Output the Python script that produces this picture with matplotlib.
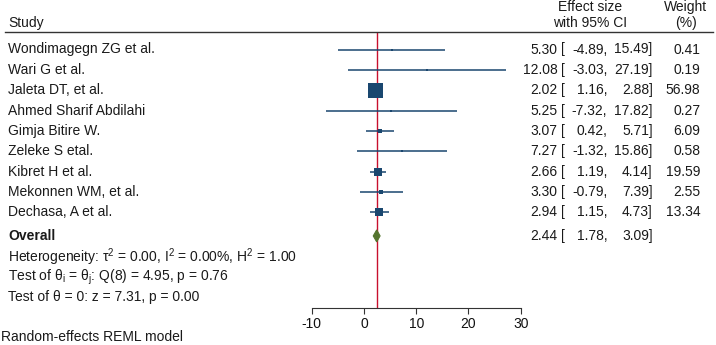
import matplotlib
matplotlib.use("Agg")
import matplotlib.pyplot as plt
import matplotlib.transforms as mtransforms
from matplotlib.lines import Line2D
from matplotlib.patches import Polygon
import numpy as np

plt.rcParams['font.family'] = ['Liberation Sans', 'DejaVu Sans']
plt.rcParams['mathtext.fontset'] = 'custom'
plt.rcParams['mathtext.rm'] = 'Liberation Sans'
plt.rcParams['mathtext.it'] = 'Liberation Sans:italic'
plt.rcParams['mathtext.bf'] = 'Liberation Sans:bold'
plt.rcParams['axes.unicode_minus'] = False

studies = ["Wondimagegn ZG et al.", "Wari G et al.", "Jaleta DT, et al.",
           "Ahmed Sharif Abdilahi", "Gimja Bitire W.", "Zeleke S etal.",
           "Kibret H et al.", "Mekonnen WM, et al.", "Dechasa, A et al."]
es = [5.30, 12.08, 2.02, 5.25, 3.07, 7.27, 2.66, 3.30, 2.94]
lo = [-4.89, -3.03, 1.16, -7.32, 0.42, -1.32, 1.19, -0.79, 1.15]
hi = [15.49, 27.19, 2.88, 17.82, 5.71, 15.86, 4.14, 7.39, 4.73]
weights = [0.41, 0.19, 56.98, 0.27, 6.09, 0.58, 19.59, 2.55, 13.34]
overall = (2.44, 1.78, 3.09)
het_lines = [r"Heterogeneity: $\mathrm{τ}^\mathrm{2}$ = 0.00, $\mathrm{I}^\mathrm{2}$ = 0.00%, $\mathrm{H}^\mathrm{2}$ = 1.00",
             r"Test of $\mathrm{θ}_\mathrm{i}$ = $\mathrm{θ}_\mathrm{j}$: Q(8) = 4.95, p = 0.76",
             r"Test of θ = 0: z = 7.31, p = 0.00"]
xticks = [-10, 0, 10, 20, 30]

W, H = 716, 345
fig = plt.figure(figsize=(W / 100, H / 100), dpi=100)
fig.patch.set_facecolor('white')

def fx(px):
    return px / W

def fy(py):
    return 1 - py / H

ax_left, ax_right, ax_top, ax_bot = 311.7, 520.7, 32, 307.7
ax = fig.add_axes([fx(ax_left), fy(ax_bot), fx(ax_right - ax_left), (ax_bot - ax_top) / H])
ax.set_xlim(-10, 30)
row0, rowh = 49.5, 20.35
ax.set_ylim((ax_bot - row0) / rowh, (ax_top - row0) / rowh)
for s in ['top', 'right', 'left']:
    ax.spines[s].set_visible(False)
ax.spines['bottom'].set_color('#333333')
ax.spines['bottom'].set_linewidth(0.8)
ax.set_yticks([])
ax.set_xticks(xticks)
ax.tick_params(axis='x', direction='out', length=4, width=0.8, color='#333333',
               labelsize=10, pad=3, labelcolor='#111111')
ax.patch.set_alpha(0)

navy = '#1a476f'
green = '#55752f'
red = '#c8102e'
fs = 10

ax.axvline(overall[0], color=red, lw=1.0, zorder=1)

k = 15 / np.sqrt(max(weights))  # px per sqrt(weight)
for i in range(len(studies)):
    ax.plot([lo[i], hi[i]], [i, i], color=navy, lw=1.1, zorder=2, solid_capstyle='butt')
    side_px = max(k * np.sqrt(weights[i]), 2.6)
    ax.plot([es[i]], [i], marker='s', ms=side_px * 0.72, color=navy, mec=navy, mew=0, zorder=3)

oy = 9.16
dh = 6 / rowh
dia = Polygon([[overall[1], oy], [overall[0], oy - dh], [overall[2], oy], [overall[0], oy + dh]],
              closed=True, facecolor=green, edgecolor=green, lw=0.8, zorder=3)
ax.add_patch(dia)

tr = mtransforms.blended_transform_factory(fig.transFigure, ax.transData)
tcol = '#1a1a1a'
for i, name in enumerate(studies):
    fig.text(fx(8), i, name, transform=tr, fontsize=fs, va='center', ha='left', color=tcol)
    fig.text(fx(557.7), i, f"{es[i]:.2f}", transform=tr, fontsize=fs, va='center', ha='right', color=tcol)
    fig.text(fx(561.5), i, "[", transform=tr, fontsize=fs, va='center', ha='left', color=tcol)
    fig.text(fx(607.3), i, f"{lo[i]:.2f},", transform=tr, fontsize=fs, va='center', ha='right', color=tcol)
    fig.text(fx(652.7), i, f"{hi[i]:.2f}]", transform=tr, fontsize=fs, va='center', ha='right', color=tcol)
    fig.text(fx(700.5), i, f"{weights[i]:.2f}", transform=tr, fontsize=fs, va='center', ha='right', color=tcol)

fig.text(fx(8), oy, "Overall", transform=tr, fontsize=fs, va='center', ha='left', color=tcol, fontweight='bold')
fig.text(fx(557.7), oy, f"{overall[0]:.2f}", transform=tr, fontsize=fs, va='center', ha='right', color=tcol)
fig.text(fx(561.5), oy, "[", transform=tr, fontsize=fs, va='center', ha='left', color=tcol)
fig.text(fx(607.3), oy, f"{overall[1]:.2f},", transform=tr, fontsize=fs, va='center', ha='right', color=tcol)
fig.text(fx(652.7), oy, f"{overall[2]:.2f}]", transform=tr, fontsize=fs, va='center', ha='right', color=tcol)

for j, line in enumerate(het_lines):
    fig.text(fx(8), [10.21, 11.19, 12.14][j], line, transform=tr, fontsize=fs, va='center', ha='left', color=tcol)

# headers
fig.text(fx(8), fy(23.3), "Study", fontsize=fs, va='center', ha='left', color=tcol)
fig.text(fx(590), fy(6.7), "Effect size", fontsize=fs, va='center', ha='center', color=tcol)
fig.text(fx(590), fy(23.3), "with 95% CI", fontsize=fs, va='center', ha='center', color=tcol)
fig.text(fx(685), fy(6.7), "Weight", fontsize=fs, va='center', ha='center', color=tcol)
fig.text(fx(686), fy(23.3), "(%)", fontsize=fs, va='center', ha='center', color=tcol)
fig.add_artist(Line2D([fx(5), fx(713)], [fy(32), fy(32)], color='#333333', lw=1.0))

fig.text(fx(1), fy(336.7), "Random-effects REML model", fontsize=fs, va='center', ha='left', color=tcol)

fig.savefig("out.png", dpi=100, facecolor='white')
